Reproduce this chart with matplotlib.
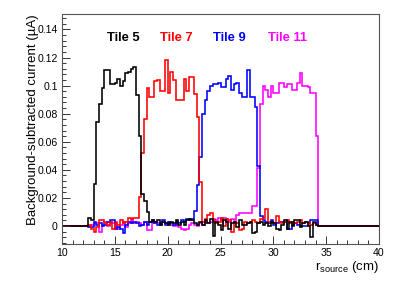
# Background-subtracted current vs source position, one histogram per tile
import numpy as np
import matplotlib
matplotlib.use("Agg")
import matplotlib.pyplot as plt
from matplotlib.ticker import MultipleLocator, FuncFormatter

plt.rcParams['font.family'] = ['Liberation Sans', 'DejaVu Sans']
plt.rcParams['mathtext.fontset'] = 'custom'
plt.rcParams['mathtext.rm'] = 'Liberation Sans'

# bins of 0.25 cm, histogram range 10-40 cm; values below start at 12.0 cm
bin_width = 0.25
x_lo, x_hi = 10.0, 40.0
data_start = 12.0

tile5 = [
    0, 0, 0.006, 0.004,                  # 12
    0.030, 0.074, 0.087, 0.098,          # 13
    0.111, 0.111, 0.101, 0.101,          # 14
    0.102, 0.105, 0.100, 0.103,          # 15
    0.109, 0.110, 0.112, 0.113,          # 16
    0.093, 0.064, 0.023, 0.018,          # 17
    0.010, 0.003, 0.004, 0.003,          # 18
    0.004, 0.001, 0.003, 0.002,          # 19
    0.001, 0.003, 0.002, 0.004,          # 20
    0.001, 0.003, 0.001, 0.004,          # 21
    0.005, 0.004, 0.002, 0.001,          # 22
    0.003, 0.001, 0.004, 0.002,          # 23
    0.005, -0.007, 0.003, 0.001,         # 24
    -0.003, 0.004, 0.003, -0.002,        # 25
    0.002, 0.003, -0.001, 0.004,         # 26
    0.001, 0.001, 0.002, 0.003,          # 27
    -0.005, -0.004, 0.002, 0.003,        # 28
    0.001, 0.002, 0.000, 0.003,          # 29
    0.002, -0.002, -0.003, 0.001,        # 30
    0.004, -0.002, 0.003, 0.000,         # 31
    0.004, 0.004, -0.001, 0.002,         # 32
    0.003, 0.000, -0.008, 0.003,         # 33
    0.001,                               # 34
]

tile7 = [
    0, 0, 0.001, -0.002,
    -0.004, -0.001, 0.004, 0.004,
    0.002, 0.001, 0.003, -0.002,
    0.002, 0.001, 0.004, 0.002,
    0.003, 0.006, 0.005, 0.006,
    0.006, 0.021, 0.052, 0.076,
    0.098, 0.092, 0.092, 0.103,
    0.104, 0.096, 0.096, 0.118,
    0.095, 0.110, 0.104, 0.090,
    0.090, 0.090, 0.105, 0.096,
    0.106, 0.106, 0.094, 0.078,
    0.031, 0.003, 0.005, 0.008,
    0.009, 0.004, 0.002, 0.003,
    0.006, 0.000, 0.005, 0.004,
    -0.004, 0.003, 0.002, -0.003,
    -0.002, 0.003, 0.002, 0.003,
    0.004, 0.003, 0.002, 0.005,
    0.006, 0.012, 0.003, 0.002,
    0.002, 0.007, 0.003, 0.002,
    0.003, 0.004, 0.002, 0.003,
    0.002, 0.003, 0.004, 0.002,
    0.003, 0.002, 0.001, 0.002,
    0.001,
]

tile9 = [
    0, 0, -0.001, -0.001,
    0.003, 0.001, 0.002, 0.000,
    0.001, 0.003, 0.004, 0.004,
    -0.002, -0.001, -0.002, -0.005,
    0.001, 0.003, 0.002, 0.003,
    0.002, 0.000, 0.001, 0.003,
    0.001, 0.003, 0.004, 0.002,
    0.001, 0.002, 0.004, 0.001,
    0.003, 0.002, 0.001, 0.003,
    0.002, 0.004, 0.003, 0.005,
    0.004, 0.005, 0.011, 0.029,
    0.049, 0.080, 0.090, 0.096,
    0.100, 0.101, 0.101, 0.102,
    0.099, 0.099, 0.105, 0.107,
    0.097, 0.101, 0.102, 0.095,
    0.092, 0.092, 0.111, 0.092,
    0.092, 0.085, 0.043, 0.007,
    0.004, 0.003, 0.002, 0.004,
    0.001, 0.002, 0.003, 0.003,
    0.003, -0.002, -0.002, 0.001,
    0.002, 0.001, 0.000, 0.000,
    0.000, 0.002, 0.004, 0.004,
    0.004,
]

tile11 = [
    0, 0, 0.000, 0.001,
    0.002, 0.002, -0.004, 0.001,
    0.003, 0.000, 0.003, 0.002,
    0.003, -0.002, 0.001, 0.003,
    -0.001, 0.002, 0.004, 0.002,
    0.003, 0.002, 0.001, 0.003,
    -0.003, -0.003, 0.002, 0.003,
    0.002, 0.001, 0.003, 0.002,
    0.003, 0.001, 0.000, 0.002,
    -0.001, -0.002, -0.003, -0.002,
    0.001, 0.002, 0.001, 0.000,
    0.002, 0.001, 0.003, 0.002,
    0.003, 0.005, 0.004, 0.006,
    0.004, 0.006, 0.005, 0.003,
    0.005, 0.004, 0.008, 0.009,
    0.009, 0.009, 0.009, 0.009,
    0.014, 0.014, 0.041, 0.087,
    0.100, 0.097, 0.092, 0.100,
    0.095, 0.095, 0.102, 0.102,
    0.099, 0.101, 0.101, 0.097,
    0.097, 0.102, 0.109, 0.100,
    0.100, 0.099, 0.095, 0.095,
    0.064,
]

labels = ['Tile 5', 'Tile 7', 'Tile 9', 'Tile 11']
colors = ['black', '#ff0000', '#0000ff', '#ff00ff']
label_x = [14.25, 19.25, 24.3, 29.5]

edges = np.arange(x_lo, x_hi + bin_width / 2, bin_width)
offset = int(round((data_start - x_lo) / bin_width))


def full_hist(vals):
    h = np.zeros(len(edges) - 1)
    h[offset:offset + len(vals)] = vals
    return h


fig = plt.figure(figsize=(3.99, 2.88), dpi=100)
ax = fig.add_axes([62 / 399, 1 - 244 / 288, 317 / 399, 230 / 288])

series = [tile5, tile7, tile9, tile11]
# draw magenta first so black ends on top, like the original
for i in [3, 2, 1, 0]:
    ax.stairs(full_hist(series[i]), edges, color=colors[i], lw=1.15)

for i in range(4):
    ax.text(label_x[i], 0.134, labels[i], color=colors[i], fontsize=9.3,
            fontweight='bold', ha='left', va='center')

ax.set_xlim(x_lo, x_hi)
ax.set_ylim(-0.0128, 0.151)

ax.xaxis.set_major_locator(MultipleLocator(5))
ax.xaxis.set_minor_locator(MultipleLocator(1))
ax.yaxis.set_major_locator(MultipleLocator(0.02))
ax.yaxis.set_minor_locator(MultipleLocator(0.004))
ax.yaxis.set_major_formatter(FuncFormatter(lambda v, p: '%g' % round(v, 4)))
ax.tick_params(which='both', direction='in', top=False, right=False,
               labelsize=7.6, width=0.7, color='#333333')
ax.tick_params(which='major', length=5.5, pad=3)
ax.tick_params(which='minor', length=2.8)
for s in ax.spines.values():
    s.set_linewidth(0.8)
    s.set_color('#555555')

ax.set_ylabel('Background-subtracted current (µA)', fontsize=9.5, loc='top')
ax.yaxis.set_label_coords(-0.072, 1.0)
ax.set_xlabel(r'r$_{\mathrm{source}}$ (cm)', fontsize=9.5, loc='right')
ax.xaxis.set_label_coords(1.0, -0.065)

fig.savefig('out.png', dpi=100)
